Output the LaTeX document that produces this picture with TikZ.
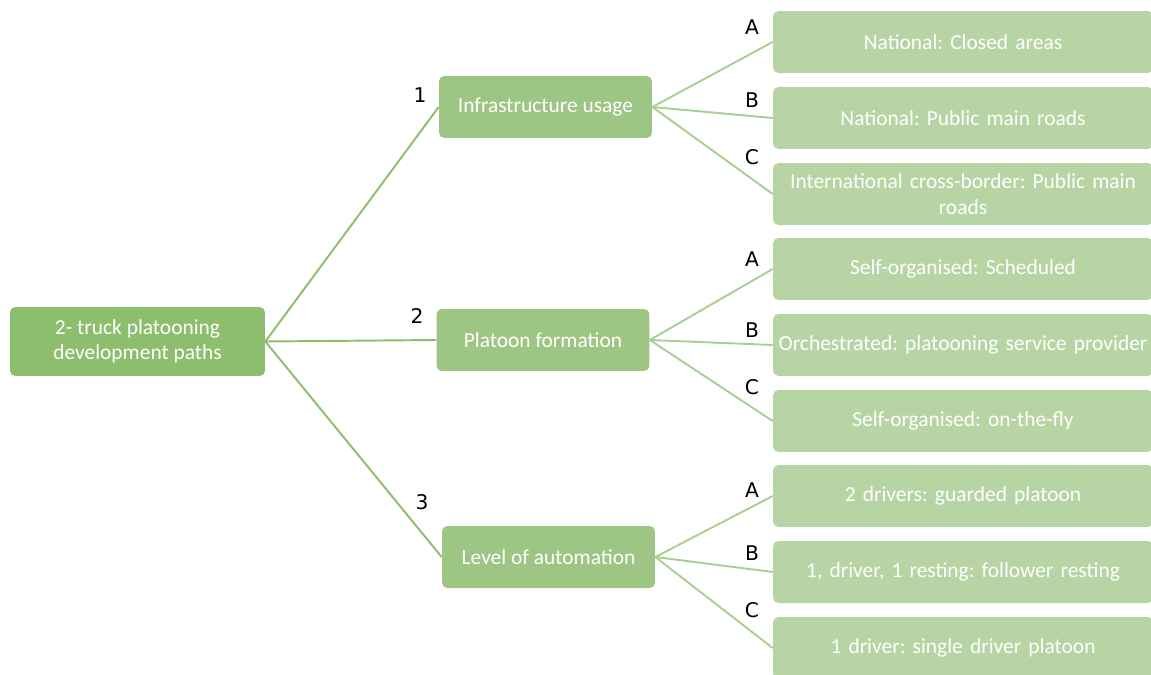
\documentclass[tikz,border=0pt]{standalone}
\usepackage{fontspec}
\setmainfont{Carlito}
\newfontfamily\letterfont{DejaVu Sans}
\usetikzlibrary{positioning}
\definecolor{rootgreen}{HTML}{8DBE6E}
\definecolor{pathgreen}{HTML}{9DC584}
\definecolor{leafgreen}{HTML}{B7D5A4}
\definecolor{leafline}{HTML}{A9CF93}
\newcommand{\boxfont}{\fontsize{12.2}{14.5}\selectfont\frenchspacing\exhyphenpenalty=10000\hyphenpenalty=10000}
\tikzset{
    rootbox/.style={rectangle,rounded corners=3pt,fill=rootgreen,text=white,align=center,minimum width=5.1cm,minimum height=1.38cm,font=\boxfont},
    pathbox/.style={rectangle,rounded corners=3pt,fill=pathgreen,text=white,align=center,minimum width=4.26cm,minimum height=1.24cm,font=\boxfont},
    leafbox/.style={rectangle,rounded corners=3pt,fill=leafgreen,text=white,align=center,text width=7.6cm,minimum width=7.6cm,minimum height=1.24cm,inner xsep=0pt,font=\boxfont},
    rootline/.style={draw=rootgreen,line width=1.1pt},
    leafline/.style={draw=leafline,line width=1.1pt},
    letter/.style={text=black,inner sep=0pt,font=\letterfont\fontsize{11.5}{13}\selectfont}
}
\begin{document}
\begin{tikzpicture}[x=0.02cm,y=-0.02cm]
    \useasboundingbox (0,0) rectangle (1151,675);
    \node[rootbox] (root) at (137.5,341.5) {2- truck platooning\\development paths};
    % second level
    \node[pathbox] (infra) at (545.5,107) {Infrastructure usage};
    \node[pathbox] (form) at (543,340) {Platoon formation};
    \node[pathbox] (auto) at (548.5,557) {Level of automation};
    % leaves
    \node[leafbox] (infraA) at (963,42) {National: Closed areas};
    \node[leafbox] (infraB) at (963,118) {National: Public main roads};
    \node[leafbox] (infraC) at (963,194) {International cross-border: Public main\\roads};
    \node[leafbox] (formA) at (963,269) {Self-organised: Scheduled};
    \node[leafbox] (formB) at (963,345) {Orchestrated: platooning service provider};
    \node[leafbox] (formC) at (963,421) {Self-organised: on-the-fly};
    \node[leafbox] (autoA) at (963,496) {2 drivers: guarded platoon};
    \node[leafbox] (autoB) at (963,572) {1, driver, 1 resting: follower resting};
    \node[leafbox] (autoC) at (963,648) {1 driver: single driver platoon};
    % connectors
    \draw[rootline] (root.east) -- (infra.west);
    \draw[rootline] (root.east) -- (form.west);
    \draw[rootline] (root.east) -- (auto.west);
    \foreach \p in {infra,form,auto}{
        \foreach \q in {A,B,C}{
            \draw[leafline] (\p.east) -- (\p\q.west);
        }
    }
    % numbers and letters
    \node[letter] (n1) at (420,95) {1};
    \node[letter] (n2) at (417,316) {2};
    \node[letter] (n3) at (422,502) {3};
    \node[letter] (infraAl) at (752,27) {A};
    \node[letter] (infraBl) at (752,100) {B};
    \node[letter] (infraCl) at (752,157) {C};
    \node[letter] (formAl) at (752,259) {A};
    \node[letter] (formBl) at (752,330) {B};
    \node[letter] (formCl) at (752,387) {C};
    \node[letter] (autoAl) at (752,490) {A};
    \node[letter] (autoBl) at (752,553) {B};
    \node[letter] (autoCl) at (752,610) {C};
\end{tikzpicture}
\end{document}
